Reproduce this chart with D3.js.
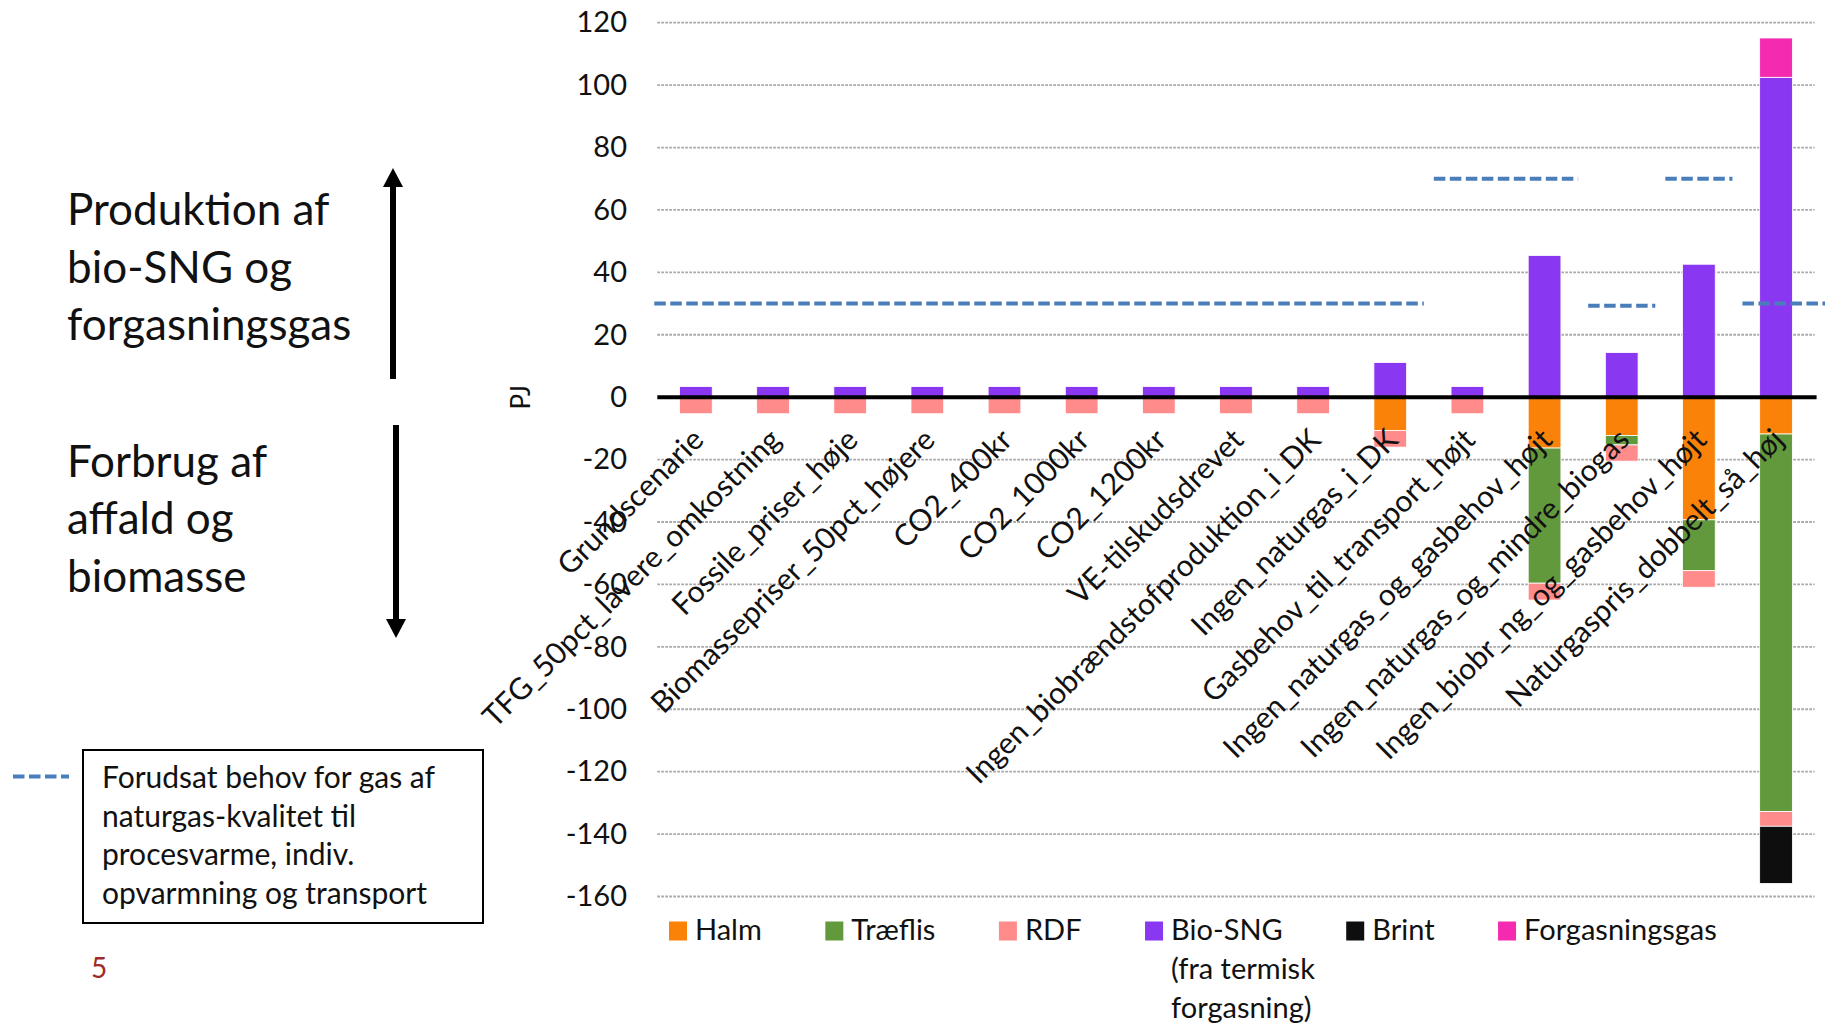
<!DOCTYPE html>
<html>
<head>
<meta charset="utf-8">
<script src="https://cdn.jsdelivr.net/npm/d3@7"></script>
<style>
  body { margin: 0; background: #fff; }
  svg { display: block; font-family: Lato, "Open Sans", sans-serif; }
</style>
</head>
<body>
<svg id="chart" width="1825" height="1024"></svg>
<script>
// Scenarios (x axis)
const categories = [
  "Grundscenarie",
  "TFG_50pct_lavere_omkostning",
  "Fossile_priser_høje",
  "Biomassepriser_50pct_højere",
  "CO2_400kr",
  "CO2_1000kr",
  "CO2_1200kr",
  "VE-tilskudsdrevet",
  "Ingen_biobrændstofproduktion_i_DK",
  "Ingen_naturgas_i_DK",
  "Gasbehov_til_transport_højt",
  "Ingen_naturgas_og_gasbehov_højt",
  "Ingen_naturgas_og_mindre_biogas",
  "Ingen_biobr_ng_og_gasbehov_højt",
  "Naturgaspris_dobbelt_så_høj"
];

// PJ per scenario: consumption is negative, production positive
const halm           = [0, 0, 0, 0, 0, 0, 0, 0, 0, -10.7, 0, -16.3, -12.3, -39.3, -11.8];
const traeflis       = [0, 0, 0, 0, 0, 0, 0, 0, 0, 0, 0, -43.3, -3.0, -16.3, -121.0];
const rdf            = [-5.3, -5.3, -5.3, -5.3, -5.3, -5.3, -5.3, -5.3, -5.3, -5.3, -5.3, -5.4, -5.2, -5.3, -4.7];
const bioSNG         = [3.4, 3.4, 3.4, 3.4, 3.4, 3.4, 3.4, 3.4, 3.4, 11.1, 3.4, 45.4, 14.3, 42.6, 102.5];
const brint          = [0, 0, 0, 0, 0, 0, 0, 0, 0, 0, 0, 0, 0, 0, -18.3];
const forgasningsgas = [0, 0, 0, 0, 0, 0, 0, 0, 0, 0, 0, 0, 0, 0, 12.6];

// Assumed demand for gas of natural-gas quality (dashed line)
const gasDemand = [30, 30, 30, 30, 30, 30, 30, 30, 30, 30, 70, 70, 29.3, 70, 30];

const yTicks = [-160, -140, -120, -100, -80, -60, -40, -20, 0, 20, 40, 60, 80, 100, 120];

const seriesNames  = ["Halm", "Træflis", "RDF", "Bio-SNG", "Brint", "Forgasningsgas"];
const seriesValues = [halm, traeflis, rdf, bioSNG, brint, forgasningsgas];
const seriesColors = ["#fb8208", "#63993d", "#ff8b8b", "#8a37f1", "#0e0e0e", "#f42bb0"];
const legendLines  = { "Bio-SNG": ["(fra termisk", "forgasning)"] };

const rows = categories.map((c, i) => {
  const r = { category: c };
  seriesNames.forEach((s, k) => r[s] = seriesValues[k][i]);
  return r;
});

const svg = d3.select("#chart");
svg.append("rect").attr("width", 1825).attr("height", 1024).attr("fill", "#fff");

const plotLeft = 657.3, plotRight = 1814.6;
const x = d3.scaleBand().domain(categories).range([plotLeft, plotRight])
  .paddingInner(0.576).paddingOuter(0.288);
const y = d3.scaleLinear().domain([-160, 120]).range([896.5, 22.7]);

// gridlines
svg.append("g").selectAll("line")
  .data(yTicks.filter(t => t !== 0))
  .join("line")
  .attr("x1", plotLeft).attr("x2", plotRight)
  .attr("y1", d => y(d)).attr("y2", d => y(d))
  .attr("stroke", "#a6a6a6").attr("stroke-width", 1.8)
  .attr("stroke-dasharray", "2.6,1.4");

// y axis labels
const yAxis = d3.axisLeft(y).tickValues(yTicks).tickSize(0).tickPadding(0)
  .tickFormat(d => String(d));
svg.append("g").attr("transform", "translate(627,0)").call(yAxis)
  .call(g => g.select(".domain").remove())
  .selectAll("text")
  .attr("font-family", "Lato, sans-serif").attr("font-size", 29).attr("fill", "#111");

// unit label
svg.append("text").attr("transform", `translate(520,${y(0)}) rotate(-90)`)
  .attr("text-anchor", "middle").attr("dominant-baseline", "central")
  .attr("font-size", 26).attr("fill", "#111").text("PJ");

// stacked bars
const stack = d3.stack().keys(seriesNames).offset(d3.stackOffsetDiverging);
const layers = stack(rows);
svg.append("g").selectAll("g")
  .data(layers)
  .join("g")
  .attr("fill", (d, i) => seriesColors[i])
  .selectAll("rect")
  .data(d => d.filter(p => p[1] - p[0] !== 0))
  .join("rect")
  .attr("x", d => x(d.data.category))
  .attr("width", x.bandwidth())
  .attr("y", d => y(d[1]))
  .attr("height", d => y(d[0]) - y(d[1]))
  .attr("stroke", "#fff").attr("stroke-width", 0.8);

// zero line
svg.append("line")
  .attr("x1", plotLeft).attr("x2", plotRight + 2)
  .attr("y1", y(0)).attr("y2", y(0))
  .attr("stroke", "#000").attr("stroke-width", 4);

// demand line: one dashed segment per run of equal values
const step = x.step();
const runs = [];
gasDemand.forEach((v, i) => {
  const last = runs[runs.length - 1];
  if (last && last.value === v) last.end = i; else runs.push({ start: i, end: i, value: v });
});
const bandStart = i => x(categories[i]) - (step - x.bandwidth()) / 2;
svg.append("g").selectAll("line")
  .data(runs)
  .join("line")
  .attr("x1", (d, i) => i === 0 ? bandStart(d.start) - 3 : bandStart(d.start) + 5)
  .attr("x2", (d, i) => i === runs.length - 1 ? 1825 : bandStart(d.end) + step - 5)
  .attr("y1", d => y(d.value)).attr("y2", d => y(d.value))
  .attr("stroke", "#4a7ebb").attr("stroke-width", 4)
  .attr("stroke-dasharray", "11.5,4.5");

// category labels
svg.append("g").selectAll("text")
  .data(categories)
  .join("text")
  .attr("transform", d => `translate(${x(d) + x.bandwidth() / 2 + 1},${y(0) + 36}) rotate(-45)`)
  .attr("text-anchor", "end").attr("dominant-baseline", "central")
  .attr("font-size", 30).attr("fill", "#111")
  .text(d => d);

// legend
const legend = svg.append("g");
let lx = 669;
seriesNames.forEach((s, i) => {
  const g = legend.append("g").attr("transform", `translate(${lx},0)`);
  g.append("rect").attr("x", 0).attr("y", 921.5).attr("width", 18).attr("height", 19)
    .attr("fill", seriesColors[i]);
  const t = g.append("text").attr("x", 26).attr("y", 940)
    .attr("font-size", 29).attr("fill", "#111").text(s);
  const w = t.node().getComputedTextLength();
  (legendLines[s] || []).forEach((line, k) => {
    g.append("text").attr("x", 26).attr("y", 979 + k * 39)
      .attr("font-size", 29).attr("fill", "#111").text(line);
  });
  lx += 26 + w + 63.5;
});

// side annotations
const note = svg.append("g").attr("fill", "#111").attr("font-size", 44);
[["Produktion af", 225], ["bio-SNG og", 283], ["forgasningsgas", 340],
 ["Forbrug af", 477], ["affald og", 534], ["biomasse", 592]].forEach(([txt, by]) => {
  note.append("text").attr("x", 67).attr("y", by).text(txt);
});

// direction arrows
const arrows = svg.append("g").attr("fill", "#000").attr("stroke", "#000");
arrows.append("line").attr("x1", 393).attr("x2", 393).attr("y1", 379).attr("y2", 184).attr("stroke-width", 6);
arrows.append("path").attr("d", "M393,168 L403,187 L383,187 Z").attr("stroke", "none");
arrows.append("line").attr("x1", 396).attr("x2", 396).attr("y1", 425).attr("y2", 621).attr("stroke-width", 6);
arrows.append("path").attr("d", "M396,638 L406,619 L386,619 Z").attr("stroke", "none");

// key for the dashed line
svg.append("line").attr("x1", 13).attr("x2", 69).attr("y1", 776.5).attr("y2", 776.5)
  .attr("stroke", "#4a7ebb").attr("stroke-width", 4).attr("stroke-dasharray", "11.5,4.5");
svg.append("rect").attr("x", 83).attr("y", 750).attr("width", 400).attr("height", 173)
  .attr("fill", "#fff").attr("stroke", "#000").attr("stroke-width", 2);
const box = svg.append("g").attr("font-size", 30).attr("fill", "#111");
["Forudsat behov for gas af", "naturgas-kvalitet til", "procesvarme, indiv.", "opvarmning og transport"]
  .forEach((line, k) => box.append("text").attr("x", 102).attr("y", 788 + k * 38.5).text(line));

// slide number
svg.append("text").attr("x", 91).attr("y", 978).attr("font-size", 28)
  .attr("fill", "#a02a28").text("5");
</script>
</body>
</html>
